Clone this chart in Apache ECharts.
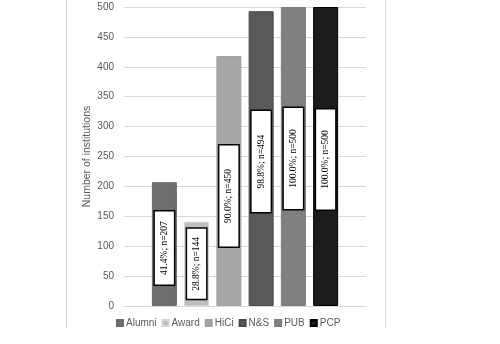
<!DOCTYPE html>
<html>
<head>
<meta charset="utf-8">
<script src="https://cdn.jsdelivr.net/npm/echarts@6/dist/echarts.min.js"></script>
<style>
html, body { margin: 0; padding: 0; background: #fff; }
#chart { width: 500px; height: 344px; }
</style>
</head>
<body>
<div id="chart"></div>
<script>
// one category, one series per indicator (like the Excel clustered bar)
const seriesNames = ['Alumni', 'Award', 'HiCi', 'N&S', 'PUB', 'PCP'];
const barValues = [207, 141, 418, 493, 500, 500];
const boxTexts = ['41.4%; n=207', '28.8%; n=144', '90.0%; n=450', '98.8%; n=494', '100.0%; n=500', '100.0%; n=500'];
const yTicks = [0, 50, 100, 150, 200, 250, 300, 350, 400, 450, 500];

const barColors = ['#6e6e6e', '#bdbdbd', '#a6a6a6', '#595959', '#808080', '#1c1c1c'];
const barBorders = ['#6a6a6a', '#d4d4d4', '#a0a0a0', '#4a4a4a', '#7a7a7a', '#000000'];
const boxLen = [73, 70, 101, 101, 101, 100];
// label offset is in the rotated frame, so negative x moves the box down
const boxShift = [4, 0, 15, 3, 2, 3];

let chart = echarts.init(document.getElementById('chart'));

let series = seriesNames.map(function (name, i) {
    return {
        name: name,
        type: 'bar',
        data: [barValues[i]],
        barWidth: 25,
        barGap: '29%',
        itemStyle: {
            color: barColors[i],
            borderColor: barBorders[i],
            borderWidth: 1
        },
        label: {
            show: true,
            position: 'inside',
            rotate: 90,
            offset: [-boxShift[i], 0],
            formatter: boxTexts[i],
            fontFamily: 'Liberation Serif',
            fontSize: 9.5,
            color: '#000',
            backgroundColor: '#fff',
            borderColor: '#000',
            borderWidth: 1.5,
            width: boxLen[i],
            height: 19,
            lineHeight: 19,
            align: 'center',
            verticalAlign: 'middle'
        },
        emphasis: { disabled: true }
    };
});

let option = {
    animation: false,
    grid: {
        left: 124,
        right: 134,
        top: 7,
        bottom: 38
    },
    legend: {
        data: seriesNames,
        left: 111,
        top: 313,
        icon: 'rect',
        itemWidth: 6,
        itemHeight: 6,
        itemGap: 5,
        textStyle: {
            fontFamily: 'Liberation Sans',
            fontSize: 10,
            color: '#595959',
            padding: [0, 0, 0, -2]
        }
    },
    xAxis: {
        type: 'category',
        data: [''],
        axisLine: { lineStyle: { color: '#d9d9d9' } },
        axisTick: { show: false },
        axisLabel: { show: false }
    },
    yAxis: {
        type: 'value',
        min: yTicks[0],
        max: yTicks[yTicks.length - 1],
        interval: 50,
        name: 'Number of institutions',
        nameLocation: 'middle',
        nameGap: 31,
        nameTextStyle: {
            fontFamily: 'Liberation Sans',
            fontSize: 10.5,
            color: '#595959'
        },
        axisLine: { show: false },
        axisTick: { show: false },
        axisLabel: {
            margin: 10,
            fontFamily: 'Liberation Sans',
            fontSize: 10,
            color: '#595959'
        },
        splitLine: { lineStyle: { color: '#d9d9d9' } }
    },
    // the chart-area frame edges in the picture
    graphic: [
        { type: 'line', shape: { x1: 66.5, y1: 0, x2: 66.5, y2: 328 }, style: { stroke: '#d9d9d9', lineWidth: 1 } },
        { type: 'line', shape: { x1: 385.5, y1: 0, x2: 385.5, y2: 328 }, style: { stroke: '#d9d9d9', lineWidth: 1 } }
    ],
    series: series
};
chart.setOption(option);
</script>
</body>
</html>
